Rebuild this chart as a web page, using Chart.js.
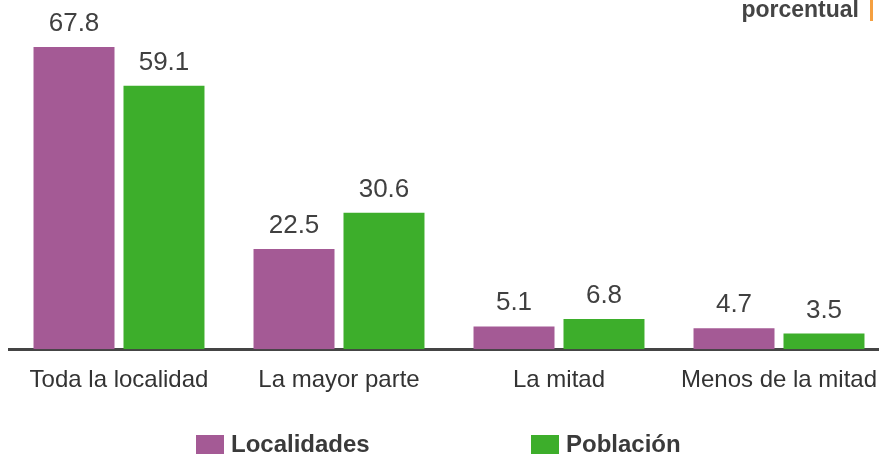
<!DOCTYPE html>
<html>
<head>
<meta charset="utf-8">
<script src="https://cdn.jsdelivr.net/npm/chart.js@4/dist/chart.umd.min.js"></script>
<style>
  body { margin: 0; background: #fff; font-family: "Liberation Sans", Arial, sans-serif; }
  #wrap { position: relative; width: 879px; height: 458px; overflow: hidden; }
  #grafico { position: absolute; left: 0; top: 0; }
  #note { position: absolute; right: 20px; top: -2px; font-size: 23px; line-height: 22px; font-weight: bold; color: #444; }
  #barra { position: absolute; left: 870px; top: 0; width: 3px; height: 21px; background: #f5a040; }
  .leg { position: absolute; top: 430px; font-size: 24px; font-weight: bold; color: #3a3a3a; display: flex; align-items: center; }
  .leg i { display: inline-block; width: 28px; height: 19px; margin-right: 7px; }
</style>
</head>
<body>
<div id="wrap">
  <canvas id="grafico" width="900" height="458"></canvas>
  <div id="note">porcentual</div>
  <div id="barra"></div>
  <div class="leg" style="left:196px"><i style="background:#a45a95"></i>Localidades</div>
  <div class="leg" style="left:531px"><i style="background:#3dae2b"></i>Población</div>
</div>
<script>
const categorias = ["Toda la localidad", "La mayor parte", "La mitad", "Menos de la mitad"];
const localidades = [67.8, 22.5, 5.1, 4.7];
const poblacion = [59.1, 30.6, 6.8, 3.5];

const etiquetas = {
  id: "etiquetas",
  afterDatasetsDraw(chart) {
    const ctx = chart.ctx;
    ctx.save();
    ctx.font = "26px 'Liberation Sans', Arial, sans-serif";
    ctx.fillStyle = "#404040";
    ctx.textAlign = "center";
    ctx.textBaseline = "alphabetic";
    chart.data.datasets.forEach((ds, i) => {
      chart.getDatasetMeta(i).data.forEach((bar, j) => {
        ctx.fillText(ds.data[j].toFixed(1), bar.x, bar.y - 16);
      });
    });
    ctx.restore();
  },
};

new Chart(document.getElementById("grafico"), {
  type: "bar",
  data: {
    labels: categorias,
    datasets: [
      { label: "Localidades", data: localidades, backgroundColor: "#a45a95" },
      { label: "Población", data: poblacion, backgroundColor: "#3dae2b" },
    ],
  },
  options: {
    responsive: false,
    animation: false,
    layout: { padding: { left: 9, right: 11, top: 15, bottom: 46 } },
    categoryPercentage: 0.818,
    barPercentage: 0.9,
    plugins: { legend: { display: false }, tooltip: { enabled: false } },
    scales: {
      y: { display: false, min: 0, max: 75 },
      x: {
        grid: { display: false, drawTicks: false },
        border: { display: true, color: "#444", width: 3 },
        ticks: { color: "#333", font: { size: 24, family: "'Liberation Sans', Arial, sans-serif" }, padding: 17, maxRotation: 0, autoSkip: false },
      },
    },
  },
  plugins: [etiquetas],
});
</script>
</body>
</html>
